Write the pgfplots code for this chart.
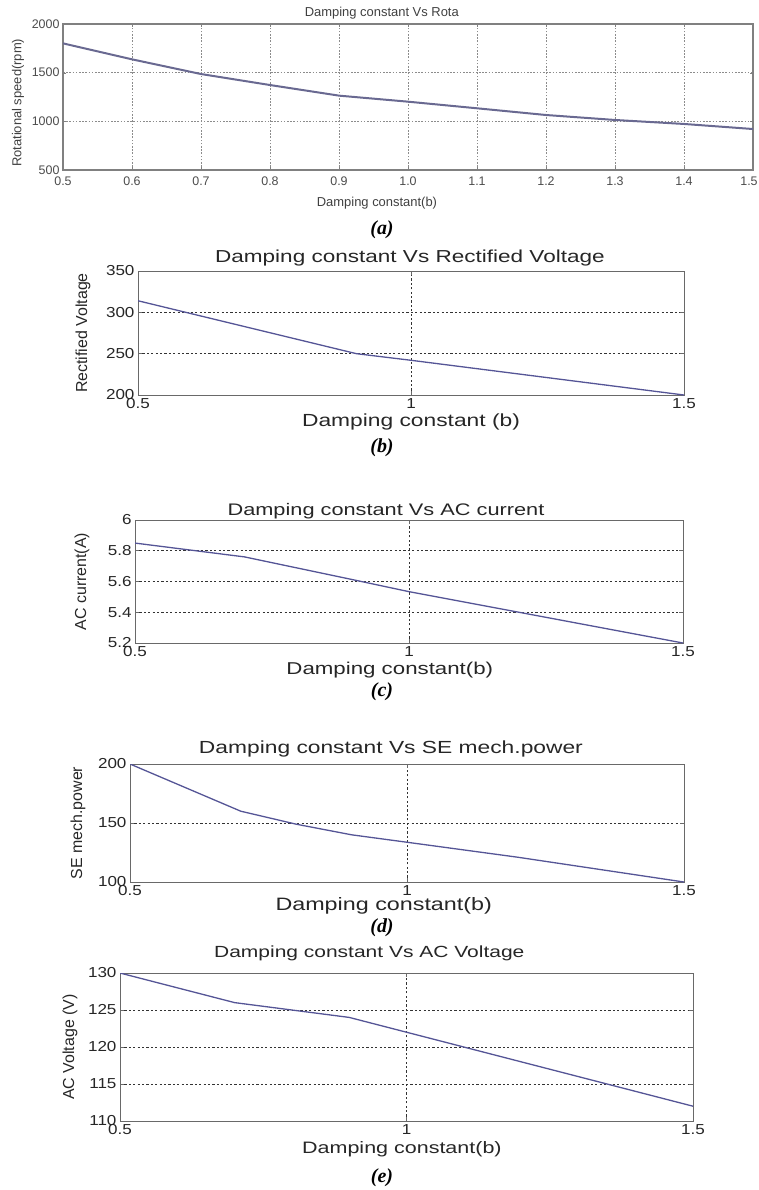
\documentclass[border=0pt]{standalone}
\usepackage{fontspec}
\usepackage{pgfplots}
\pgfplotsset{compat=1.18}
\setmainfont{Liberation Sans}
\newfontfamily\wideL{Liberation Sans}[FakeStretch=1.3]
\newfontfamily\wideT{Liberation Sans}[FakeStretch=1.18]
\newfontfamily\capf{Liberation Serif}
\newcommand\labf[1]{\wideL\fontsize{#1}{#1}\selectfont}
\newcommand\ylabfont{\fontsize{16}{18}\selectfont}
\newcommand\tickfont{\wideT\fontsize{14.5}{16}\selectfont}
\newcommand\afont{\fontsize{13}{15}\selectfont}
\newcommand\atick{\fontsize{12.5}{14}\selectfont}
\definecolor{linec}{RGB}{85,85,150}
\definecolor{axg}{RGB}{105,105,105}
\pgfplotsset{
  mb/.style={scale only axis, xmin=0.5, xmax=1.5, xtick={0.5,1,1.5}, xticklabels={0.5,1,1.5},
    grid=major, major grid style={dash pattern=on 2.2bp off 2.2bp, black!80, line width=0.8bp},
    axis line style={axg, line width=1bp}, tick align=inside, major tick length=4bp,
    tick style={axg, line width=0.8bp}, tick label style={font=\tickfont, text=black!85},
    title style={text=black!85, anchor=center},
    xlabel style={text=black!85, anchor=center},
    ylabel style={font=\ylabfont, text=black!85, anchor=center}}
}
\tikzset{figcap/.style={font=\capf\bfseries\itshape\fontsize{20}{22}\selectfont}}
\begin{document}
\begin{tikzpicture}
\useasboundingbox (0,0) rectangle (759bp,-1190bp);
% (a)
\begin{axis}[scale only axis, at={(63bp,-170bp)}, anchor=south west, width=690bp, height=146bp,
  xmin=0.5, xmax=1.5, ymin=500, ymax=2000,
  xtick={0.5,0.6,0.7,0.8,0.9,1.0,1.1,1.2,1.3,1.4,1.5},
  xticklabels={0.5,0.6,0.7,0.8,0.9,1.0,1.1,1.2,1.3,1.4,\kern-8bp 1.5},
  ytick={500,1000,1500,2000}, yticklabels={500,1000,1500,2000},
  grid=major, major grid style={dash pattern=on 1.6bp off 1.6bp, black!45, line width=0.9bp},
  axis line style={black!50, line width=1.1bp}, tick align=inside, major tick length=3bp,
  tick style={black!50}, tick label style={font=\atick, text=black!70},
  title={Damping constant Vs Rota}, title style={font=\afont, text=black!75, at={(axis description cs:0.462,1)}, anchor=center, yshift=5bp},
  xlabel={Damping constant(b)}, xlabel style={font=\afont, text=black!75, at={(axis description cs:0.455,0)}, anchor=center, yshift=-33bp},
  ylabel={Rotational speed(rpm)}, ylabel style={font=\afont, text=black!75, at={(axis description cs:-0.0652,0.46)}, anchor=center},
  xticklabel style={yshift=-3bp}]
\addplot[color={rgb,255:red,105;green,105;blue,145}, line width=2bp, mark=none] coordinates {
(0.5,1801) (0.6,1637) (0.7,1486) (0.8,1373) (0.9,1264) (1.0,1202) (1.1,1134) (1.2,1065) (1.3,1014) (1.4,973) (1.5,921)};
\end{axis}
\node[figcap] at (382bp,-230bp) {(a)};
% (b)
\begin{axis}[mb, at={(138bp,-395bp)}, anchor=south west, width=546bp, height=124bp,
  ymin=200, ymax=350, ytick={200,250,300,350}, yticklabels={200,250,300,350},
  title={Damping constant Vs Rectified Voltage}, title style={font=\labf{17.4}, at={(axis description cs:0.498,1)}, yshift=7bp},
  xlabel={Damping constant (b)}, xlabel style={font=\labf{17.6}, at={(axis description cs:0.5,0)}, yshift=-27bp},
  ylabel={Rectified Voltage}, ylabel style={at={(axis description cs:-0.1007,0.5)}}]
\addplot[linec, line width=1.3bp, mark=none] coordinates {
(0.5,314) (0.7,282) (0.9,250) (1.0,242) (1.5,200)};
\end{axis}
\node[figcap] at (382bp,-448bp) {(b)};
% (c)
\begin{axis}[mb, at={(135bp,-643bp)}, anchor=south west, width=548bp, height=123bp,
  ymin=5.2, ymax=6, ytick={5.2,5.4,5.6,5.8,6}, yticklabels={5.2,5.4,5.6,5.8,6},
  title={Damping constant Vs AC current}, title style={font=\labf{16.8}, at={(axis description cs:0.458,1)}, yshift=3bp},
  xlabel={Damping constant(b)}, xlabel style={font=\labf{17.2}, at={(axis description cs:0.465,0)}, yshift=-27bp},
  ylabel={AC current(A)}, ylabel style={at={(axis description cs:-0.0967,0.5)}}]
\addplot[linec, line width=1.3bp, mark=none] coordinates {
(0.5,5.85) (0.7,5.76) (0.9,5.61) (1.0,5.534) (1.5,5.2)};
\end{axis}
\node[figcap] at (382bp,-692bp) {(c)};
% (d)
\begin{axis}[mb, at={(130bp,-882bp)}, anchor=south west, width=554bp, height=118bp,
  ymin=100, ymax=200, ytick={100,150,200}, yticklabels={100,150,200},
  title={Damping constant Vs SE mech.power}, title style={font=\labf{17.6}, at={(axis description cs:0.471,1)}, yshift=9bp},
  xlabel={Damping constant(b)}, xlabel style={font=\labf{18}, at={(axis description cs:0.458,0)}, yshift=-24bp},
  ylabel={SE mech.power}, ylabel style={at={(axis description cs:-0.0937,0.5)}}]
\addplot[linec, line width=1.3bp, mark=none] coordinates {
(0.5,200) (0.6,180) (0.7,160) (0.8,149) (0.9,140) (1.0,133.7) (1.2,121) (1.5,100)};
\end{axis}
\node[figcap] at (382bp,-928bp) {(d)};
% (e)
\begin{axis}[mb, at={(120bp,-1121bp)}, anchor=south west, width=573bp, height=148bp,
  ymin=110, ymax=130, ytick={110,115,120,125,130}, yticklabels={110,115,120,125,130},
  title={Damping constant Vs AC Voltage}, title style={font=\labf{16.2}, at={(axis description cs:0.435,1)}, yshift=14bp},
  xlabel={Damping constant(b)}, xlabel style={font=\labf{16.6}, at={(axis description cs:0.492,0)}, yshift=-28bp},
  ylabel={AC Voltage (V)}, ylabel style={at={(axis description cs:-0.0873,0.5)}}]
\addplot[linec, line width=1.3bp, mark=none] coordinates {
(0.5,130) (0.7,126) (0.9,124) (1.0,122) (1.5,112)};
\end{axis}
\node[figcap] at (382bp,-1178bp) {(e)};
\end{tikzpicture}
\end{document}
